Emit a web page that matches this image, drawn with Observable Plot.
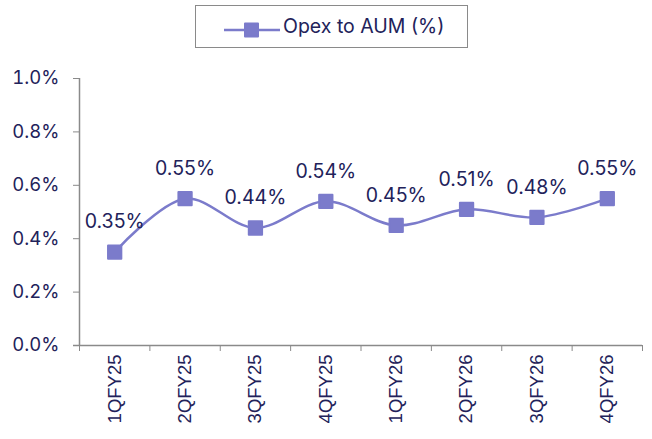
<!DOCTYPE html>
<html><head><meta charset="utf-8">
<script src="https://cdn.jsdelivr.net/npm/d3@7"></script>
<script src="https://cdn.jsdelivr.net/npm/@observablehq/plot@0.6"></script>
<style>
body{margin:0;background:#fff;width:652px;height:439px;overflow:hidden;font-family:Inter,Lato,sans-serif;}
#legend{height:55px;position:relative;}
#legend .box{position:absolute;left:195px;top:5px;width:273px;height:43px;border:1.5px solid #8a8a8a;box-sizing:border-box;}
#legend svg{position:absolute;left:224px;top:22px;}
#legend span{position:absolute;left:283px;top:14px;font-size:19.5px;color:#22225a;}
</style></head>
<body>
<div id="legend"><div class="box"></div>
<svg width="56" height="16"><line x1="0" y1="8" x2="56" y2="8" stroke="#7b7bcb" stroke-width="2.5"/><rect x="21" y="1.5" width="13" height="13" fill="#7b7bcb" stroke="#7b7bcb" stroke-width="2" stroke-linejoin="round"/></svg>
<span>Opex to AUM (%)</span></div>
<div id="chart"></div>
<script>
const categories = ["1QFY25","2QFY25","3QFY25","4QFY25","1QFY26","2QFY26","3QFY26","4QFY26"];
const values = [0.35,0.55,0.44,0.54,0.45,0.51,0.48,0.55];
const yTicks = [0,0.2,0.4,0.6,0.8,1.0];

const data = categories.map((c,i)=>({i, c, v: values[i]}));
const boundaries = d3.range(categories.length+1).map(k=>k-0.5);
const navy = "#22225a";
const col = "#7b7bcb";

const chart = Plot.plot({
  width: 652, height: 384,
  marginLeft: 79, marginRight: 10, marginTop: 23, marginBottom: 94,
  style: {fontFamily: "Inter, Lato, sans-serif", color: navy, background: "#fff"},
  x: {type: "linear", domain: [-0.5, categories.length-0.5]},
  y: {domain: [0, 1.0]},
  marks: [
    Plot.ruleY([0], {x1: -0.585, x2: categories.length-0.5, stroke: "#8a8a8a", strokeWidth: 1.5}),
    Plot.ruleX([-0.5], {y1: 0, y2: 1.0, stroke: "#8a8a8a", strokeWidth: 1.5}),
    Plot.axisY({ticks: yTicks, tickFormat: d=>d.toFixed(1)+"%", tickSize: 6, tickPadding: 14, stroke: "#8a8a8a", fontSize: 18.5, label: null, fill: navy}),
    Plot.axisX({ticks: boundaries, tickFormat: ()=>"", tickSize: 6, stroke: "#8a8a8a", label: null}),
    Plot.axisX({ticks: d3.range(categories.length), tickFormat: i=>categories[i], tickSize: 0, tickPadding: 9, tickRotate: -90, fontSize: 18.5, fontFamily: "Liberation Sans, Arial, sans-serif", label: null, fill: navy}),
    Plot.line(data, {x: "i", y: "v", curve: "catmull-rom", stroke: col, strokeWidth: 2.5}),
    Plot.dot(data, {x: "i", y: "v", symbol: "square", r: 7.5, fill: col, stroke: col, strokeWidth: 2, strokeLinejoin: "round"}),
    Plot.text(data, {x: "i", y: "v", text: d=>d.v.toFixed(2)+"%", dy: -30, fontSize: 19.5, fill: navy})
  ]
});
document.getElementById("chart").appendChild(chart);
</script>
</body></html>
